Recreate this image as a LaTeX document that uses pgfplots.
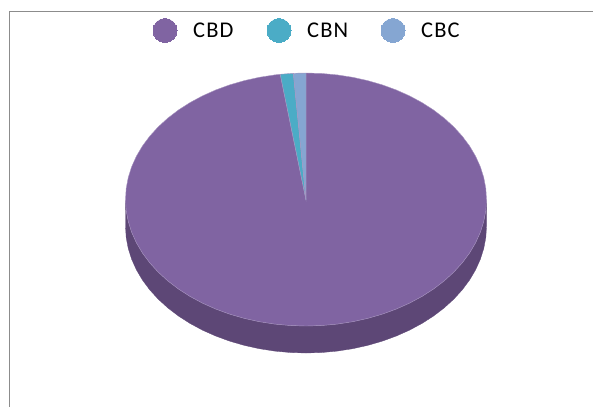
\documentclass[border=0pt]{standalone}
\usepackage{pgfplots}
\pgfplotsset{compat=1.18}
\usepackage{fontspec}
\setmainfont[LetterSpace=5]{Carlito}

\definecolor{cbd}{HTML}{8064A2}
\definecolor{cbdside}{HTML}{5D4776}
\definecolor{cbn}{HTML}{4BACC6}
\definecolor{cbc}{HTML}{85A6D2}
\definecolor{edge}{HTML}{A794C0}
\definecolor{frame}{HTML}{8C8C8C}

\begin{document}
\begin{tikzpicture}
\begin{axis}[
	scale only axis,
	width=593pt,
	height=407pt,
	xmin=0, xmax=593,
	ymin=0, ymax=407,
	y dir=reverse,
	hide axis,
	every axis plot/.append style={mark=none},
]
% hidden axis has no box of its own, keep the whole page
\path (axis cs:0,0) rectangle (axis cs:593,407);

% frame, only the top and left sides show
\addplot[frame, line width=1.8pt] coordinates {(593,11.5) (9.5,11.5) (9.5,407)};

% side wall of the disc
\addplot[fill=cbdside, draw=cbdside, line width=0.3pt] coordinates {
	(486.50,199.50) (485.81,210.53) (483.76,221.47) (480.35,232.24) (475.61,242.77)
	(469.59,252.96) (462.32,262.75) (453.86,272.06) (444.27,280.81) (433.63,288.95)
	(422.02,296.40) (409.53,303.12) (396.25,309.05) (382.28,314.15) (367.73,318.37)
	(352.72,321.69) (337.34,324.08) (321.73,325.52) (306.00,326.00) (290.27,325.52)
	(274.66,324.08) (259.28,321.69) (244.27,318.37) (229.72,314.15) (215.75,309.05)
	(202.47,303.12) (189.98,296.40) (178.37,288.95) (167.73,280.81) (158.14,272.06)
	(149.68,262.75) (142.41,252.96) (136.39,242.77) (131.65,232.24) (128.24,221.47)
	(126.19,210.53) (125.50,199.50)
	(125.50,226.50) (126.19,237.53) (128.24,248.47) (131.65,259.24) (136.39,269.77)
	(142.41,279.96) (149.68,289.75) (158.14,299.06) (167.73,307.81) (178.37,315.95)
	(189.98,323.40) (202.47,330.12) (215.75,336.05) (229.72,341.15) (244.27,345.37)
	(259.28,348.69) (274.66,351.08) (290.27,352.52) (306.00,353.00) (321.73,352.52)
	(337.34,351.08) (352.72,348.69) (367.73,345.37) (382.28,341.15) (396.25,336.05)
	(409.53,330.12) (422.02,323.40) (433.63,315.95) (444.27,307.81) (453.86,299.06)
	(462.32,289.75) (469.59,279.96) (475.61,269.77) (480.35,259.24) (483.76,248.47)
	(485.81,237.53) (486.50,226.50)
} --cycle;

% CBD slice
\addplot[fill=cbd, draw=edge, line width=0.4pt] coordinates {
	(306,200)
	(306.00,73.00) (321.73,73.48) (337.34,74.92) (352.72,77.31) (367.73,80.63)
	(382.28,84.85) (396.25,89.95) (409.53,95.88) (422.02,102.60) (433.63,110.05)
	(444.27,118.19) (453.86,126.94) (462.32,136.25) (469.59,146.04) (475.61,156.23)
	(480.35,166.76) (483.76,177.53) (485.81,188.47) (486.50,199.50) (485.81,210.53)
	(483.76,221.47) (480.35,232.24) (475.61,242.77) (469.59,252.96) (462.32,262.75)
	(453.86,272.06) (444.27,280.81) (433.63,288.95) (422.02,296.40) (409.53,303.12)
	(396.25,309.05) (382.28,314.15) (367.73,318.37) (352.72,321.69) (337.34,324.08)
	(321.73,325.52) (306.00,326.00) (290.27,325.52) (274.66,324.08) (259.28,321.69)
	(244.27,318.37) (229.72,314.15) (215.75,309.05) (202.47,303.12) (189.98,296.40)
	(178.37,288.95) (167.73,280.81) (158.14,272.06) (149.68,262.75) (142.41,252.96)
	(136.39,242.77) (131.65,232.24) (128.24,221.47) (126.19,210.53) (125.50,199.50)
	(126.19,188.47) (128.24,177.53) (131.65,166.76) (136.39,156.23) (142.41,146.04)
	(149.68,136.25) (158.14,126.94) (167.73,118.19) (178.37,110.05) (189.98,102.60)
	(202.47,95.88) (215.75,89.95) (229.72,84.85) (244.27,80.63) (259.28,77.31)
	(274.66,74.92) (280.20,74.30)
} --cycle;

% CBN slice
\addplot[fill=cbn, draw=edge, line width=0.4pt] coordinates {
	(306,200) (280.20,74.30) (290.27,73.48) (293.30,73.30)
} --cycle;

% CBC slice
\addplot[fill=cbc, draw=edge, line width=0.4pt] coordinates {
	(306,200) (293.30,73.30) (306.00,73.00)
} --cycle;

% legend
\addplot[only marks, mark=*, mark size=12pt, mark options={draw=cbd, fill=cbd, line width=0pt}] coordinates {(165,30.5)};
\addplot[only marks, mark=*, mark size=12pt, mark options={draw=cbn, fill=cbn, line width=0pt}] coordinates {(279,30.5)};
\addplot[only marks, mark=*, mark size=12pt, mark options={draw=cbc, fill=cbc, line width=0pt}] coordinates {(393,30.5)};
\node[anchor=base west, inner sep=0pt, font=\fontsize{22.5}{24}\selectfont] at (axis cs:193,37.5) {CBD};
\node[anchor=base west, inner sep=0pt, font=\fontsize{22.5}{24}\selectfont] at (axis cs:307,37.5) {CBN};
\node[anchor=base west, inner sep=0pt, font=\fontsize{22.5}{24}\selectfont] at (axis cs:421,37.5) {CBC};
\end{axis}
\end{tikzpicture}
\end{document}
